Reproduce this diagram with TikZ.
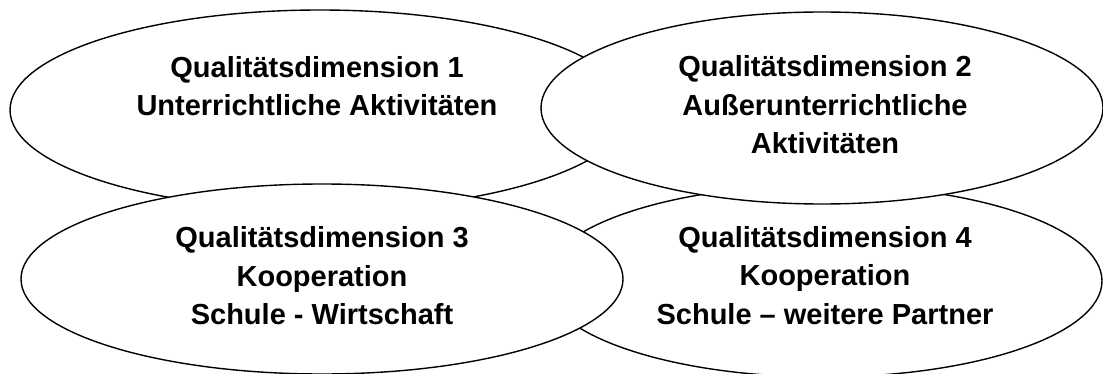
\documentclass[tikz,border=0pt]{standalone}
\usepackage{fontspec}
\setmainfont{Liberation Sans}
\usetikzlibrary{shapes.geometric}
\begin{document}
\begin{tikzpicture}[x=1pt,y=1pt]
\tikzstyle{every node}+=[inner sep=0pt]
\tikzstyle{dim}=[ellipse,draw=black,fill=white,line width=1.4pt]
\tikzstyle{dimtext}=[align=center,font=\fontsize{29}{38.5}\selectfont\bfseries]
\useasboundingbox (0,0) rectangle (1103,-374);
% the four dimensions, back to front
\node [dim,minimum width=620pt,minimum height=200pt] (d1) at (320,-110) {};
\node [dim,minimum width=558pt,minimum height=192pt] (d4) at (823,-281) {};
\node [dim,minimum width=562pt,minimum height=192pt] (d2) at (822,-108) {};
\node [dim,minimum width=602pt,minimum height=190pt] (d3) at (322,-279) {};
% labels
\node [dimtext] (t1) at ([xshift=-3pt,yshift=24pt]d1.center) {Qualitätsdimension 1\\Unterrichtliche Aktivitäten};
\node [dimtext] (t2) at ([xshift=3pt,yshift=3pt]d2.center) {Qualitätsdimension 2\\Außerunterrichtliche\\Aktivitäten};
\node [dimtext] (t3) at ([yshift=3pt]d3.center) {Qualitätsdimension 3\\Kooperation\\Schule - Wirtschaft};
\node [dimtext] (t4) at ([xshift=2pt,yshift=5.5pt]d4.center) {Qualitätsdimension 4\\Kooperation\\Schule – weitere Partner};
\end{tikzpicture}
\end{document}
